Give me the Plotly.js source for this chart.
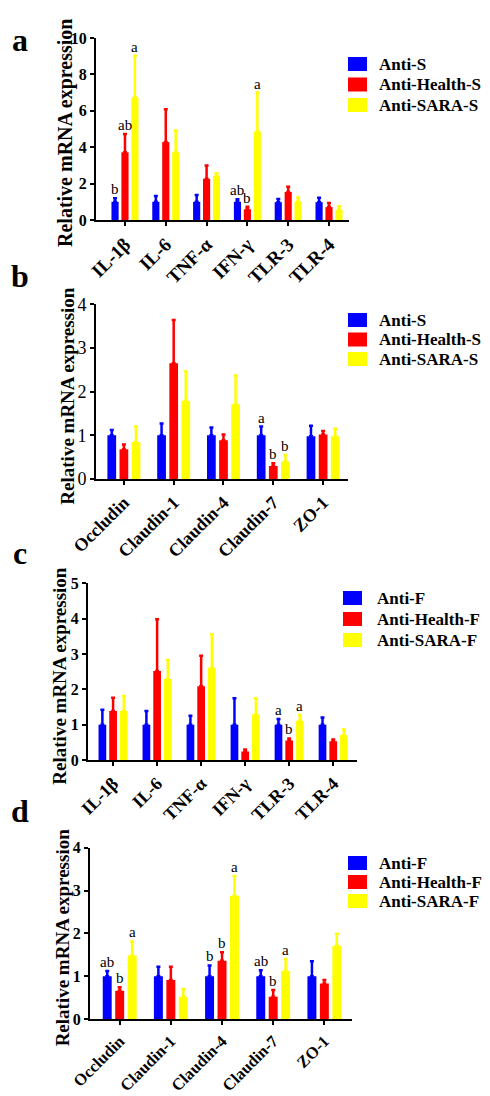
<!DOCTYPE html>
<html>
<head>
<meta charset="utf-8">
<script src="https://cdn.plot.ly/plotly-3.0.1.min.js"></script>
<style>html,body{margin:0;padding:0;background:#fff;}#chart{width:490px;height:1096px;}</style>
</head>
<body>
<div id="chart"></div>
<script>
// ---------- categories ----------
const catsCyt = ['IL-1β', 'IL-6', 'TNF-α', 'IFN-γ', 'TLR-3', 'TLR-4'];
const catsTJ = ['Occludin', 'Claudin-1', 'Claudin-4', 'Claudin-7', 'ZO-1'];
const groupsS = ['Anti-S', 'Anti-Health-S', 'Anti-SARA-S'];
const groupsF = ['Anti-F', 'Anti-Health-F', 'Anti-SARA-F'];
const yTitle = 'Relative mRNA expression';
const colors = ['#0000FF', '#FF0000', '#FFFF00'];

// ---------- panel a (cytokines, S) ----------
const aS = [1.0, 1.0, 1.0, 1.0, 0.98, 0.98];
const aS_err = [0.19, 0.32, 0.38, 0.14, 0.17, 0.24];
const aH = [3.72, 4.28, 2.26, 0.59, 1.54, 0.71];
const aH_err = [1.0, 1.81, 0.73, 0.14, 0.29, 0.22];
const aR = [6.73, 3.72, 2.42, 4.86, 1.02, 0.56];
const aR_err = [2.30, 1.20, 0.15, 2.14, 0.21, 0.20];
const aLetS = ['b', '', '', 'ab', '', ''];
const aLetH = ['ab', '', '', 'b', '', ''];
const aLetR = ['a', '', '', 'a', '', ''];

// ---------- panel b (tight junctions, S) ----------
const bS = [1.0, 1.0, 1.0, 1.0, 0.98];
const bS_err = [0.12, 0.27, 0.18, 0.20, 0.24];
const bH = [0.68, 2.65, 0.89, 0.30, 1.02];
const bH_err = [0.11, 0.99, 0.13, 0.06, 0.08];
const bR = [0.85, 1.79, 1.71, 0.40, 0.98];
const bR_err = [0.35, 0.67, 0.66, 0.15, 0.17];
const bLetS = ['', '', '', 'a', ''];
const bLetH = ['', '', '', 'b', ''];
const bLetR = ['', '', '', 'b', ''];

// ---------- panel c (cytokines, F) ----------
const cS = [1.0, 1.0, 1.0, 1.0, 1.0, 1.0];
const cS_err = [0.42, 0.39, 0.25, 0.75, 0.16, 0.20];
const cH = [1.39, 2.52, 2.09, 0.24, 0.55, 0.53];
const cH_err = [0.37, 1.46, 0.86, 0.06, 0.06, 0.05];
const cR = [1.39, 2.29, 2.61, 1.29, 1.11, 0.70];
const cR_err = [0.42, 0.54, 0.95, 0.46, 0.16, 0.16];
const cLetS = ['', '', '', '', 'a', ''];
const cLetH = ['', '', '', '', 'b', ''];
const cLetR = ['', '', '', '', 'a', ''];

// ---------- panel d (tight junctions, F) ----------
const dS = [1.0, 1.0, 1.0, 1.0, 1.0];
const dS_err = [0.12, 0.22, 0.25, 0.14, 0.35];
const dH = [0.66, 0.91, 1.36, 0.52, 0.83];
const dH_err = [0.08, 0.31, 0.20, 0.16, 0.08];
const dR = [1.48, 0.52, 2.88, 1.12, 1.71];
const dR_err = [0.33, 0.18, 0.46, 0.28, 0.28];
const dLetS = ['ab', '', 'b', 'ab', ''];
const dLetH = ['b', '', 'b', 'b', ''];
const dLetR = ['a', '', 'a', 'a', ''];

const SERIF = '"Liberation Serif", "Times New Roman", serif';
const BARGAP = 0.27, BARGROUPGAP = 0.28;
const bold = s => '<b>' + s + '</b>';

const panels = [
  {cats: catsCyt, names: groupsS, vals: [aS, aH, aR], errs: [aS_err, aH_err, aR_err], lets: [aLetS, aLetH, aLetR],
   xr: [-0.71, 5.49], yr: [0, 10], dtick: 2, xd: [96, 349], yd: [38, 220], tickBold: true, ytf: 16, xtf: 19, ttf: 20,
   tx: 65, letter: 'a', ly: 40, leg: {sq: 348, tx: 377, rows: [64, 84.5, 105]}},
  {cats: catsTJ, names: groupsS, vals: [bS, bH, bR], errs: [bS_err, bH_err, bR_err], lets: [bLetS, bLetH, bLetR],
   xr: [-0.56, 4.5], yr: [0, 4], dtick: 1, xd: [96, 348], yd: [304.3, 479], tickBold: false, ytf: 18, xtf: 18, ttf: 19,
   tx: 68, letter: 'b', ly: 276, leg: {sq: 348, tx: 377, rows: [320, 339.5, 359]}},
  {cats: catsCyt, names: groupsF, vals: [cS, cH, cR], errs: [cS_err, cH_err, cR_err], lets: [cLetS, cLetH, cLetR],
   xr: [-0.57, 5.54], yr: [0, 5], dtick: 1, xd: [88, 357], yd: [583.3, 760], tickBold: true, ytf: 16, xtf: 18, ttf: 19,
   tx: 60, letter: 'c', ly: 553, leg: {sq: 343, tx: 375, rows: [598, 619, 640]}},
  {cats: catsTJ, names: groupsF, vals: [dS, dH, dR], errs: [dS_err, dH_err, dR_err], lets: [dLetS, dLetH, dLetR],
   xr: [-0.58, 4.54], yr: [0, 4], dtick: 1, xd: [90, 352], yd: [847.7, 1019], tickBold: true, ytf: 16, xtf: 16.5, ttf: 19,
   tx: 62, letter: 'd', ly: 811, leg: {sq: 348, tx: 377, rows: [863, 882, 901]}}
];

const W = 490, H = 1096;
const traces = [];
const layout = {
  width: W, height: H,
  margin: {l: 0, r: 0, t: 0, b: 0},
  paper_bgcolor: '#fff', plot_bgcolor: 'rgba(0,0,0,0)',
  barmode: 'group', bargap: BARGAP, bargroupgap: BARGROUPGAP,
  showlegend: false,
  annotations: [],
  shapes: [],
  font: {family: SERIF, color: '#000'}
};

panels.forEach((p, i) => {
  const n = i + 1;
  const xa = n === 1 ? 'x' : 'x' + n;
  const ya = n === 1 ? 'y' : 'y' + n;
  const idx = p.cats.map((_, k) => k);
  const slot = (1 - BARGAP) / 3;
  for (let g = 0; g < 3; g++) {
    traces.push({
      type: 'bar', x: idx, y: p.vals[g], name: p.names[g],
      xaxis: xa, yaxis: ya,
      marker: {color: colors[g], line: {width: 0}},
      error_y: {type: 'data', symmetric: false, array: p.errs[g], arrayminus: p.vals[g].map(() => 0),
                color: colors[g], thickness: 2.5, width: 2},
      hoverinfo: 'x+y'
    });
    // significance letters
    p.lets[g].forEach((t, k) => {
      if (!t) return;
      layout.annotations.push({
        xref: xa, yref: ya, x: k + (g - 1) * slot, y: p.vals[g][k] + p.errs[g][k],
        text: t, showarrow: false, yanchor: 'bottom', xanchor: 'center', yshift: -1,
        font: {family: SERIF, size: 15, color: '#000'}
      });
    });
    // legend entry (square + label)
    const cy = p.leg.rows[g];
    layout.shapes.push({
      type: 'rect', xref: 'paper', yref: 'paper',
      x0: p.leg.sq / W, x1: (p.leg.sq + 19) / W, y0: 1 - (cy + 7) / H, y1: 1 - (cy - 7) / H,
      fillcolor: colors[g], line: {width: 0}
    });
    layout.annotations.push({
      xref: 'paper', yref: 'paper', x: p.leg.tx / W, y: 1 - cy / H, xanchor: 'left', yanchor: 'middle',
      text: bold(p.names[g]), showarrow: false,
      font: {family: SERIF, size: 17, color: '#000'}
    });
  }
  const tv = [];
  for (let v = p.yr[0]; v <= p.yr[1] + 1e-9; v += p.dtick) tv.push(v);
  const axKey = n === 1 ? '' : String(n);
  layout['xaxis' + axKey] = {
    domain: [p.xd[0] / W, p.xd[1] / W], anchor: ya, range: p.xr,
    tickmode: 'array', tickvals: idx, ticktext: p.cats.map(bold), tickangle: -45,
    showline: true, linecolor: '#000', linewidth: 2, mirror: false,
    ticks: 'outside', ticklen: 4, tickwidth: 2, tickcolor: '#000',
    showgrid: false, zeroline: false, fixedrange: true,
    tickfont: {family: SERIF, size: p.xtf, color: '#000'}
  };
  layout['yaxis' + axKey] = {
    domain: [1 - p.yd[1] / H, 1 - p.yd[0] / H], anchor: xa, range: p.yr,
    tickmode: 'array', tickvals: tv, ticktext: tv.map(v => p.tickBold ? bold(String(v)) : String(v)),
    showline: true, linecolor: '#000', linewidth: 2,
    ticks: 'outside', ticklen: 4, tickwidth: 2, tickcolor: '#000',
    showgrid: false, zeroline: false, fixedrange: true,
    tickfont: {family: SERIF, size: p.ytf, color: '#000'}
  };
  // y-axis title
  layout.annotations.push({
    xref: 'paper', yref: 'paper', x: p.tx / W, y: 1 - (p.yd[0] + p.yd[1]) / 2 / H - 4 / H,
    xanchor: 'center', yanchor: 'middle', textangle: -90,
    text: bold(yTitle), showarrow: false,
    font: {family: SERIF, size: p.ttf, color: '#000'}
  });
  // panel letter
  layout.annotations.push({
    xref: 'paper', yref: 'paper', x: 20 / W, y: 1 - p.ly / H, xanchor: 'center', yanchor: 'middle',
    text: bold(p.letter), showarrow: false,
    font: {family: SERIF, size: 32, color: '#000'}
  });
});

Plotly.newPlot('chart', traces, layout, {displayModeBar: false, staticPlot: true});
</script>
</body>
</html>
